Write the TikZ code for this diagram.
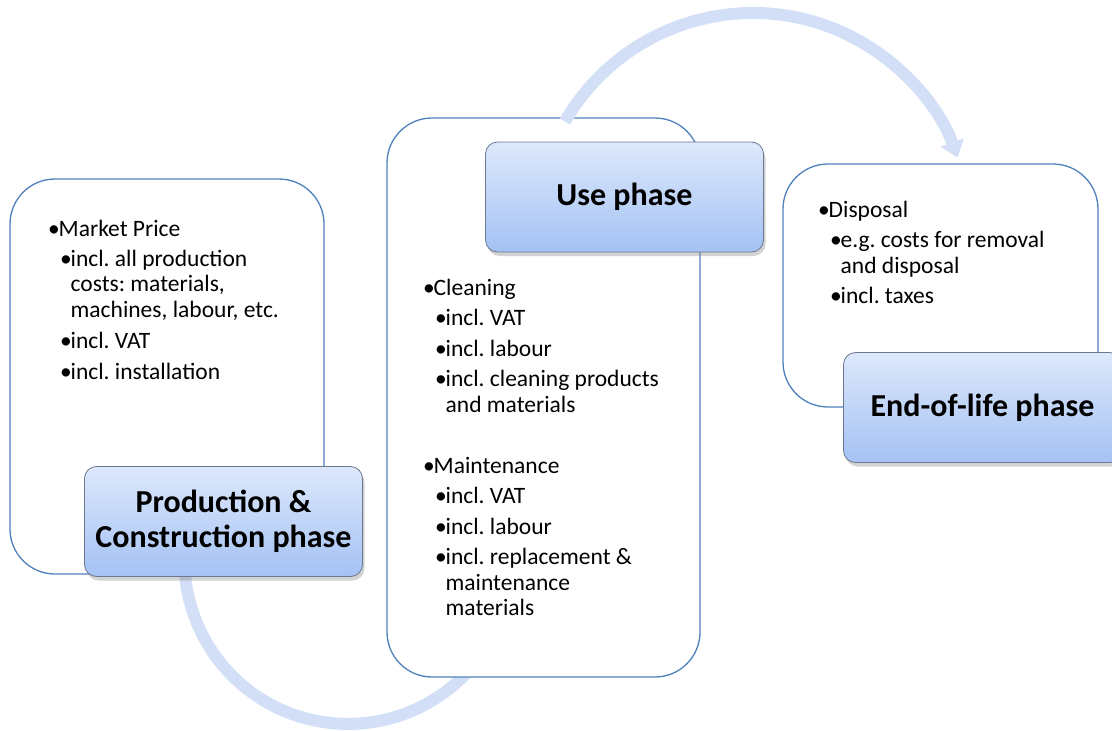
\documentclass[tikz,border=0pt]{standalone}
\usepackage{fontspec}
\setmainfont{Carlito}
\usetikzlibrary{arrows.meta,shadows}

\definecolor{boxline}{HTML}{4F81BD}
\definecolor{titletop}{HTML}{DDE8FB}
\definecolor{titlebot}{HTML}{A4C2F4}
\definecolor{titleline}{HTML}{6B7890}
\definecolor{arcblue}{HTML}{D2DFF6}

\frenchspacing
\newcommand{\lvlone}[1]{\makebox[10.5pt][l]{•}#1}
\newcommand{\lvltwo}[1]{\hspace{12pt}\makebox[10.5pt][l]{•}#1}
\newcommand{\lvlwrap}[1]{\hspace{22.5pt}#1}

\tikzset{
  phasebox/.style={draw=boxline, line width=1.3pt, fill=white, rounded corners=45pt},
  phasetitle/.style={draw=titleline, line width=0.8pt, rounded corners=12pt,
    top color=titletop, bottom color=titlebot, minimum width=278pt, minimum height=110pt,
    align=center, font=\fontsize{32}{35}\selectfont\bfseries,
    drop shadow={shadow xshift=2pt, shadow yshift=-4pt, opacity=0.35}},
  costlist/.style={anchor=north west, align=left, inner sep=0pt, font=\fontsize{23.5}{25.5}\selectfont},
  flowarc/.style={draw=arcblue, line width=12pt}
}

\begin{document}
\begin{tikzpicture}[x=1pt,y=1pt]
  \clip (0,0) rectangle (1112,-731);

  % arc back into the use phase, behind the boxes
  \coordinate (prodarc) at (187,-532);
  \draw[flowarc] (prodarc) arc[start angle=170, end angle=350, radius=163.5];

  % the three phases
  \node[phasebox, minimum width=314pt, minimum height=395pt] (prodbox) at (167,-376.5) {};
  \node[phasebox, minimum width=313pt, minimum height=559pt] (usebox) at (543.5,-397.5) {};
  \node[phasebox, minimum width=315pt, minimum height=243pt] (eolbox) at (940.5,-285.5) {};

  \node[costlist] (prodcosts) at (48,-219.5) {%
    \lvlone{Market Price}\\[4.5pt]
    \lvltwo{incl. all production}\\
    \lvlwrap{costs: materials,}\\
    \lvlwrap{machines, labour, etc.}\\[5.5pt]
    \lvltwo{incl. VAT}\\[5.5pt]
    \lvltwo{incl. installation}};

  \node[costlist] (usecosts) at (423,-278.5) {%
    \lvlone{Cleaning}\\[5pt]
    \lvltwo{incl. VAT}\\[5pt]
    \lvltwo{incl. labour}\\[5pt]
    \lvltwo{incl. cleaning products}\\
    \lvlwrap{and materials}\\[36pt]
    \lvlone{Maintenance}\\[4.5pt]
    \lvltwo{incl. VAT}\\[5pt]
    \lvltwo{incl. labour}\\[5pt]
    \lvltwo{incl. replacement \&}\\
    \lvlwrap{maintenance}\\
    \lvlwrap{materials}};

  \node[costlist] (eolcosts) at (818,-200.5) {%
    \lvlone{Disposal}\\[5pt]
    \lvltwo{e.g. costs for removal}\\
    \lvlwrap{and disposal}\\[4.5pt]
    \lvltwo{incl. taxes}};

  % arc from use to end-of-life
  \coordinate (usearc) at (565,-121.5);
  \draw[flowarc, -{Triangle[width=24pt,length=16pt]}] (usearc) arc[start angle=150, end angle=19.5, radius=217];

  % phase titles
  \node[phasetitle] (prodtitle) at (223.5,-521.5) {Production \&\\Construction phase};
  \node[phasetitle] (usetitle) at (624.5,-197) {Use phase};
  \node[phasetitle] (eoltitle) at (982.5,-407.5) {End-of-life phase};
\end{tikzpicture}
\end{document}
